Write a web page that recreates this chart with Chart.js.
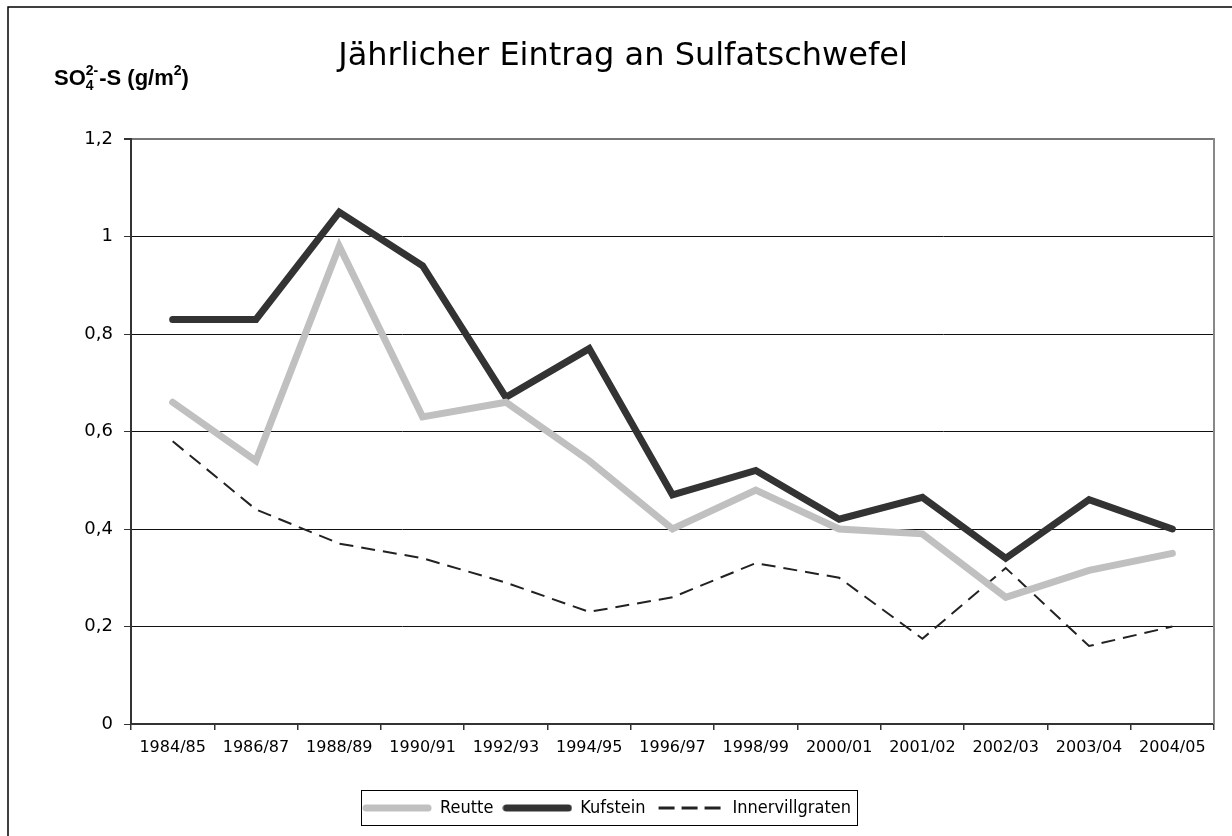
<!DOCTYPE html>
<html>
<head>
<meta charset="utf-8">
<script src="https://cdn.jsdelivr.net/npm/chart.js@4"></script>
<style>
  html, body { margin: 0; padding: 0; background: #fff; }
  #wrap { width: 1232px; height: 836px; }
</style>
</head>
<body>
<div id="wrap"><canvas id="sulfat-chart" width="1232" height="836"></canvas></div>
<script>
// Jahre (Messperioden)
const years = ['1984/85', '1986/87', '1988/89', '1990/91', '1992/93', '1994/95', '1996/97',
  '1998/99', '2000/01', '2001/02', '2002/03', '2003/04', '2004/05'];

// SO4-S Eintrag in g/m2
const reutte = [0.66, 0.54, 0.98, 0.63, 0.66, 0.54, 0.40, 0.48, 0.40, 0.39, 0.26, 0.315, 0.35];
const kufstein = [0.83, 0.83, 1.05, 0.94, 0.67, 0.77, 0.47, 0.52, 0.42, 0.465, 0.34, 0.46, 0.40];
const innervillgraten = [0.58, 0.44, 0.37, 0.34, 0.29, 0.23, 0.26, 0.33, 0.30, 0.175, 0.32, 0.16, 0.20];

const titleText = 'Jährlicher Eintrag an Sulfatschwefel';
const FONT = '"DejaVu Sans", sans-serif';
const FONT_COND = '"DejaVu Sans Condensed", "DejaVu Sans", sans-serif';

// small canvases used as legend symbols (line samples)
function lineSample(color, width, dash) {
  const c = document.createElement('canvas');
  c.width = 70;
  c.height = 10;
  const g = c.getContext('2d');
  g.strokeStyle = color;
  g.lineWidth = width;
  g.lineCap = dash ? 'butt' : 'round';
  g.setLineDash(dash || []);
  g.beginPath();
  g.moveTo(4, 5);
  g.lineTo(dash ? 70 : 66, 5);
  g.stroke();
  return c;
}

// frame, title, unit label, right border, legend box
const decorations = {
  id: 'decorations',
  afterDraw(chart) {
    const ctx = chart.ctx;
    const area = chart.chartArea;
    ctx.save();

    // outer frame
    ctx.strokeStyle = '#000';
    ctx.lineWidth = 1.5;
    ctx.strokeRect(8, 7, 1240, 850);

    // right border of the plot
    ctx.strokeStyle = '#888';
    ctx.lineWidth = 2;
    ctx.beginPath();
    ctx.moveTo(area.right, area.top - 1);
    ctx.lineTo(area.right, area.bottom);
    ctx.stroke();

    // title
    ctx.fillStyle = '#000';
    ctx.font = '32px ' + FONT;
    ctx.textAlign = 'center';
    ctx.textBaseline = 'alphabetic';
    ctx.fillText(titleText, 623, 65);

    // unit label SO4(2-)-S (g/m2)
    ctx.textAlign = 'left';
    let x = 54;
    const base = 85;
    const big = 'bold 22px "Liberation Sans", Arial, sans-serif';
    const small = 'bold 14px "Liberation Sans", Arial, sans-serif';
    const part = (txt, font, dy) => {
      ctx.font = font;
      ctx.fillText(txt, x, base + dy);
      return ctx.measureText(txt).width;
    };
    x += part('SO', big, 0);
    const w4 = part('4', small, 5);
    part('2-', small, -10);
    ctx.font = small;
    x += Math.max(w4, ctx.measureText('2-').width) + 1;
    x += part('-S (g/m', big, 0);
    x += part('2', small, -10);
    part(')', big, 0);

    // legend box
    const lg = chart.legend;
    if (lg && lg.legendHitBoxes && lg.legendHitBoxes.length) {
      const boxes = lg.legendHitBoxes;
      const left = Math.min(...boxes.map(b => b.left)) - 2;
      const right = Math.max(...boxes.map(b => b.left + b.width)) + 6;
      ctx.strokeStyle = '#000';
      ctx.lineWidth = 1;
      ctx.strokeRect(Math.round(left) + 0.5, lg.top + 1.5, Math.round(right - left), lg.height - 3);
    }
    ctx.restore();
  }
};

const ctx = document.getElementById('sulfat-chart').getContext('2d');
new Chart(ctx, {
  type: 'line',
  data: {
    labels: years,
    datasets: [
      {
        label: 'Reutte',
        data: reutte,
        borderColor: '#c0c0c0',
        backgroundColor: '#c0c0c0',
        borderWidth: 7,
        borderCapStyle: 'round',
        borderJoinStyle: 'miter',
        pointRadius: 0,
        pointStyle: lineSample('#c0c0c0', 7),
        tension: 0,
      },
      {
        label: 'Kufstein',
        data: kufstein,
        borderColor: '#333333',
        backgroundColor: '#333333',
        borderWidth: 7,
        borderCapStyle: 'round',
        borderJoinStyle: 'miter',
        pointRadius: 0,
        pointStyle: lineSample('#333333', 7),
        tension: 0,
      },
      {
        label: 'Innervillgraten',
        data: innervillgraten,
        borderColor: '#222222',
        backgroundColor: '#222222',
        borderWidth: 2,
        borderDash: [14, 8],
        pointRadius: 0,
        pointStyle: lineSample('#222222', 3, [16, 7]),
        tension: 0,
      },
    ],
  },
  options: {
    responsive: false,
    animation: false,
    layout: { padding: { left: 0, right: 18, top: 139, bottom: 9 } },
    plugins: {
      title: { display: false },
      tooltip: { enabled: false },
      legend: {
        position: 'bottom',
        labels: {
          usePointStyle: true,
          pointStyleWidth: 68,
          padding: 10,
          color: '#000',
          font: { family: FONT_COND, size: 18 },
        },
      },
    },
    scales: {
      x: {
        offset: true,
        afterFit(scale) { scale.height = 65; },
        grid: {
          offset: true,
          drawOnChartArea: false,
          drawTicks: true,
          tickLength: 6,
          color: '#333',
          lineWidth: 1.5,
        },
        border: { color: '#333', width: 2 },
        ticks: {
          color: '#000',
          maxRotation: 0,
          autoSkip: false,
          padding: 8,
          font: { family: FONT, size: 16 },
        },
      },
      y: {
        min: 0,
        max: 1.2,
        afterFit(scale) { scale.width = 131; },
        grid: {
          color: (c) => (c.tick && (c.tick.value === 1.2 || c.tick.value === 0.2)) ? '#777' : '#111',
          lineWidth: (c) => (c.tick && c.tick.value === 1.2) ? 2 : 1,
          tickLength: 7,
          tickColor: '#333',
        },
        border: { color: '#333', width: 2 },
        ticks: {
          stepSize: 0.2,
          color: '#000',
          padding: 11,
          font: { family: FONT, size: 18 },
          callback: (v) => String(Math.round(v * 10) / 10).replace('.', ','),
        },
      },
    },
  },
  plugins: [decorations],
});
</script>
</body>
</html>
